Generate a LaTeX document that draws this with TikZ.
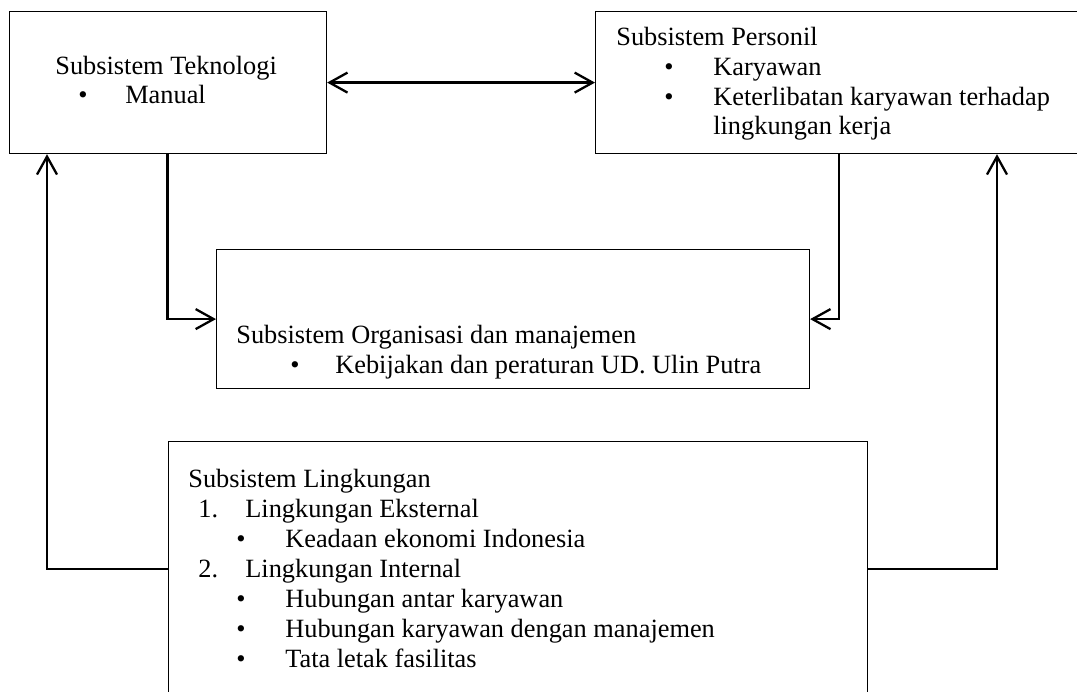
\documentclass[tikz,border=0pt]{standalone}
\usepackage{fontspec}
\setmainfont{Liberation Serif}
\usetikzlibrary{positioning,calc,arrows.meta}

\newcommand{\entry}[3]{\makebox[#1][l]{\hspace*{#2}#3}}

\begin{document}
\begin{tikzpicture}[x=0.02cm, y=-0.02cm, >={Straight Barb[length=3.6mm, width=4mm]},
	box/.style={draw, rectangle, line width=0.7pt, inner sep=0pt, anchor=north west},
	txt/.style={align=left, inner sep=0pt, anchor=base west, font=\fontsize{15pt}{17.07pt}\selectfont},
	conn/.style={line width=1.3pt}]
	\useasboundingbox (0,0) rectangle (1077,692);
	\clip (0,0) rectangle (1077,692);
	\node[box, minimum width=6.34cm, minimum height=2.84cm] (tekno) at (9,11) {};
	\node[box, minimum width=9.68cm, minimum height=2.84cm] (personil) at (595,11) {};
	\node[box, minimum width=11.86cm, minimum height=2.78cm] (org) at (216,249) {};
	\node[box, minimum width=13.98cm, minimum height=6cm] (lingk) at (168,441) {};
	\node[txt] (teknotxt) at (55,104) {Subsistem Teknologi\\
		\entry{1.4cm}{0.46cm}{\textbullet}Manual};
	\node[txt] (personiltxt) at (616,135) {Subsistem Personil\\
		\entry{1.94cm}{0.96cm}{\textbullet}Karyawan\\
		\entry{1.94cm}{0.96cm}{\textbullet}Keterlibatan karyawan terhadap\\
		\hspace*{1.94cm}lingkungan kerja};
	\node[txt] (orgtxt) at (236,373) {Subsistem Organisasi dan manajemen\\
		\entry{1.98cm}{1.08cm}{\textbullet}Kebijakan dan peraturan UD. Ulin Putra};
	\node[txt] (lingktxt) at (188,667) {Subsistem Lingkungan\\
		\entry{1.14cm}{0.2cm}{1.}Lingkungan Eksternal\\
		\entry{1.94cm}{0.96cm}{\textbullet}Keadaan ekonomi Indonesia\\
		\entry{1.14cm}{0.2cm}{2.}Lingkungan Internal\\
		\entry{1.94cm}{0.96cm}{\textbullet}Hubungan antar karyawan\\
		\entry{1.94cm}{0.96cm}{\textbullet}Hubungan karyawan dengan manajemen\\
		\entry{1.94cm}{0.96cm}{\textbullet}Tata letak fasilitas};
	\draw[conn, <->] (tekno) -- (personil);
	\draw[conn, ->] ($(tekno.south west)+(158.5,0)$) |- (org.west);
	\draw[conn, ->] ($(personil.south west)+(244,0)$) |- (org.east);
	\draw[conn, ->] ($(lingk.north west)+(0,128)$) -| ($(tekno.south west)+(38,0)$);
	\draw[conn, ->] ($(lingk.north east)+(0,128)$) -| ($(personil.south west)+(402,0)$);
\end{tikzpicture}
\end{document}
